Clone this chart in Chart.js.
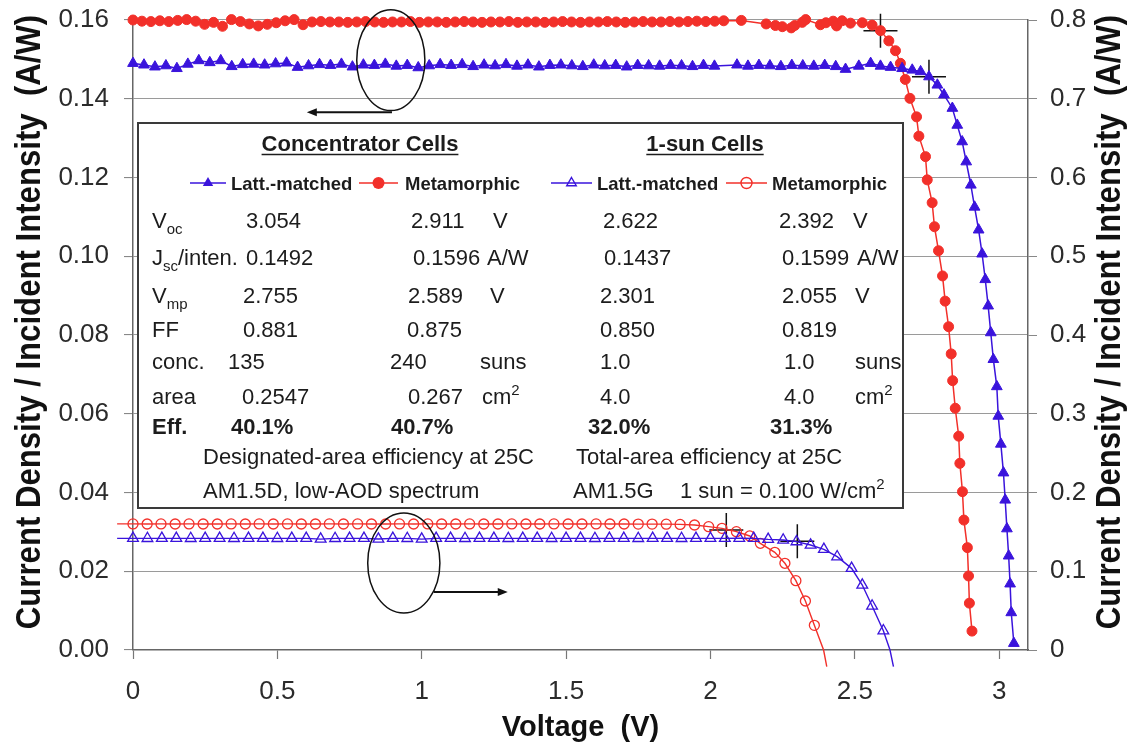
<!DOCTYPE html>
<html>
<head>
<meta charset="utf-8">
<title>Concentrator and 1-sun cell I-V curves</title>
<script src="https://cdn.jsdelivr.net/npm/chart.js@4.4.0/dist/chart.umd.min.js"></script>
<style>
  html, body { margin: 0; padding: 0; background: #fff; }
  canvas { display: block; }
</style>
</head>
<body>
<canvas id="ivChart" width="1132" height="747"></canvas>
<script>
// ---- data ----

// Concentrator cells, left axis (A/W)
const concLmV = [
  0.000, 0.038, 0.076, 0.114, 0.152, 0.190, 0.228, 0.266, 0.304, 0.342,
  0.380, 0.418, 0.456, 0.494, 0.532, 0.570, 0.608, 0.646, 0.684, 0.722,
  0.760, 0.798, 0.836, 0.874, 0.912, 0.950, 0.988, 1.026, 1.064, 1.102,
  1.140, 1.178, 1.216, 1.254, 1.292, 1.330, 1.368, 1.406, 1.444, 1.482,
  1.520, 1.558, 1.596, 1.634, 1.672, 1.710, 1.748, 1.786, 1.824, 1.862,
  1.900, 1.938, 1.976, 2.014, 2.092, 2.130, 2.168, 2.206, 2.244, 2.282,
  2.320, 2.358, 2.396, 2.434,
  2.468, 2.514, 2.555, 2.589, 2.624, 2.664, 2.699, 2.728, 2.757, 2.786,
  2.809, 2.838, 2.855, 2.872, 2.886, 2.902, 2.915, 2.929, 2.941, 2.952,
  2.962, 2.971, 2.980, 2.992, 2.997, 3.006, 3.015, 3.021, 3.027, 3.033,
  3.038, 3.042, 3.051
];
const concLmJ = [
  0.1490, 0.1486, 0.1481, 0.1484, 0.1477, 0.1488, 0.1497, 0.1492, 0.1497, 0.1482,
  0.1487, 0.1488, 0.1486, 0.1489, 0.1491, 0.1480, 0.1484, 0.1487, 0.1485, 0.1488,
  0.1481, 0.1486, 0.1485, 0.1488, 0.1483, 0.1485, 0.1479, 0.1484, 0.1487, 0.1485,
  0.1487, 0.1482, 0.1486, 0.1484, 0.1487, 0.1483, 0.1486, 0.1481, 0.1485, 0.1486,
  0.1484, 0.1482, 0.1486, 0.1484, 0.1485, 0.1481, 0.1485, 0.1484, 0.1483, 0.1485,
  0.1484, 0.1482, 0.1485, 0.1483, 0.1486, 0.1483, 0.1485, 0.1484, 0.1482, 0.1485,
  0.1484, 0.1483, 0.1485, 0.1482,
  0.1475, 0.1483, 0.1490, 0.1483, 0.1480, 0.1477, 0.1473, 0.1469, 0.1456, 0.1435,
  0.1410, 0.1376, 0.1333, 0.1291, 0.1240, 0.1181, 0.1125, 0.1067, 0.1006, 0.0941,
  0.0874, 0.0806, 0.0738, 0.0669, 0.0594, 0.0523, 0.0450, 0.0381, 0.0308, 0.0239,
  0.0168, 0.0095, 0.0017
];
const concMmV = [
  0.000, 0.031, 0.062, 0.093, 0.124, 0.155, 0.186, 0.217, 0.248, 0.279,
  0.310, 0.341, 0.372, 0.403, 0.434, 0.465, 0.496, 0.527, 0.558, 0.589,
  0.620, 0.651, 0.682, 0.713, 0.744, 0.775, 0.806, 0.837, 0.868, 0.899,
  0.930, 0.961, 0.992, 1.023, 1.054, 1.085, 1.116, 1.147, 1.178, 1.209,
  1.240, 1.271, 1.302, 1.333, 1.364, 1.395, 1.426, 1.457, 1.488, 1.519,
  1.550, 1.581, 1.612, 1.643, 1.674, 1.705, 1.736, 1.767, 1.798, 1.829,
  1.860, 1.891, 1.922, 1.953, 1.984, 2.015, 2.046,
  2.107, 2.193, 2.225, 2.249, 2.280, 2.292, 2.318, 2.330, 2.381, 2.400,
  2.425, 2.437, 2.456,
  2.485, 2.526, 2.560, 2.589, 2.618, 2.641, 2.658, 2.675, 2.691, 2.714,
  2.722, 2.745, 2.751, 2.768, 2.776, 2.790, 2.804, 2.813, 2.825, 2.834,
  2.839, 2.848, 2.860, 2.864, 2.873, 2.878, 2.890, 2.894, 2.897, 2.906
];
const concMmJ = [
  0.1600, 0.1597, 0.1596, 0.1598, 0.1596, 0.1599, 0.1601, 0.1597, 0.1589, 0.1594,
  0.1584, 0.1601, 0.1596, 0.1590, 0.1585, 0.1589, 0.1593, 0.1598, 0.1601, 0.1588,
  0.1595, 0.1596, 0.1595, 0.1595, 0.1594, 0.1595, 0.1596, 0.1595, 0.1594, 0.1595,
  0.1595, 0.1596, 0.1594, 0.1595, 0.1595, 0.1594, 0.1595, 0.1596, 0.1595, 0.1594,
  0.1595, 0.1595, 0.1596, 0.1594, 0.1595, 0.1595, 0.1594, 0.1595, 0.1596, 0.1595,
  0.1594, 0.1595, 0.1595, 0.1596, 0.1595, 0.1594, 0.1595, 0.1596, 0.1595, 0.1595,
  0.1596, 0.1595, 0.1596, 0.1597, 0.1596, 0.1597, 0.1598,
  0.1599, 0.1590, 0.1586, 0.1583, 0.1580, 0.1586, 0.1594, 0.1601, 0.1588, 0.1593,
  0.1597, 0.1585, 0.1598,
  0.1592, 0.1593, 0.1587, 0.1573, 0.1547, 0.1522, 0.1490, 0.1449, 0.1401, 0.1354,
  0.1305, 0.1253, 0.1194, 0.1136, 0.1075, 0.1014, 0.0950, 0.0886, 0.0821, 0.0752,
  0.0684, 0.0614, 0.0543, 0.0474, 0.0402, 0.0330, 0.0260, 0.0188, 0.0119, 0.0048
];

// 1-sun cells, right axis
const sunLmV = [
  0.00, 0.05, 0.10, 0.15, 0.20, 0.25, 0.30, 0.35, 0.40, 0.45,
  0.50, 0.55, 0.60, 0.65, 0.70, 0.75, 0.80, 0.85, 0.90, 0.95,
  1.00, 1.05, 1.10, 1.15, 1.20, 1.25, 1.30, 1.35, 1.40, 1.45,
  1.50, 1.55, 1.60, 1.65, 1.70, 1.75, 1.80, 1.85, 1.90, 1.95,
  2.00, 2.05, 2.10, 2.15,
  2.200, 2.252, 2.298, 2.347, 2.393, 2.439, 2.489, 2.526, 2.560, 2.599
];
const sunLmJ = [
  0.1418, 0.1417, 0.1418, 0.1418, 0.1417, 0.1418, 0.1418, 0.1417, 0.1418, 0.1418,
  0.1417, 0.1418, 0.1418, 0.1408, 0.1417, 0.1418, 0.1418, 0.1409, 0.1418, 0.1417,
  0.1408, 0.1418, 0.1418, 0.1417, 0.1418, 0.1418, 0.1417, 0.1418, 0.1418, 0.1417,
  0.1418, 0.1418, 0.1417, 0.1418, 0.1418, 0.1417, 0.1418, 0.1418, 0.1417, 0.1418,
  0.1418, 0.1418, 0.1419, 0.1418,
  0.1405, 0.1397, 0.1376, 0.1333, 0.1278, 0.1185, 0.1037, 0.0825, 0.0559, 0.0245
];
const sunMmV = [
  0.000, 0.049, 0.097, 0.146, 0.194, 0.243, 0.292, 0.340, 0.389, 0.437,
  0.486, 0.535, 0.583, 0.632, 0.680, 0.729, 0.778, 0.826, 0.875, 0.923,
  0.972, 1.021, 1.069, 1.118, 1.166, 1.215, 1.264, 1.312, 1.361, 1.409,
  1.458, 1.507, 1.555, 1.604, 1.652, 1.701, 1.750, 1.798, 1.847, 1.895,
  1.945, 1.994, 2.040, 2.090, 2.136, 2.173, 2.223, 2.258, 2.296, 2.329, 2.360
];
const sunMmJ = [
  0.1601, 0.1600, 0.1601, 0.1600, 0.1601, 0.1600, 0.1600, 0.1601, 0.1600, 0.1601,
  0.1600, 0.1601, 0.1600, 0.1600, 0.1601, 0.1600, 0.1601, 0.1600, 0.1600, 0.1601,
  0.1600, 0.1601, 0.1600, 0.1600, 0.1601, 0.1600, 0.1600, 0.1601, 0.1600, 0.1600,
  0.1601, 0.1600, 0.1600, 0.1601, 0.1600, 0.1600, 0.1599, 0.1599, 0.1598, 0.1595,
  0.1587, 0.1566, 0.1545, 0.1503, 0.1448, 0.1355, 0.1240, 0.1101, 0.0880, 0.0622, 0.0313
];

// fitted line ends of the 1-sun curves (no markers)
const sunLmFitV = [-0.055, 2.622, 2.634];
const sunLmFitJ = [0.1418, 0.0, -0.021];
const sunMmFitV = [-0.055, 2.392, 2.403];
const sunMmFitJ = [0.1601, 0.0, -0.021];

// maximum power points (+ marks)
const concMppV = [2.757, 2.589];
const concMppJ = [0.1456, 0.1573];
const sunMppV = [2.301, 2.055];
const sunMppJ = [0.1380, 0.1524];

// table text
const paramLabels = ['V|oc', 'J|sc|/inten.', 'V|mp', 'FF', 'conc.', 'area', 'Eff.'];
const concLmCol = ['3.054', '0.1492', '2.755', '0.881', '135', '0.2547', '40.1%'];
const concMmCol = ['2.911', '0.1596', '2.589', '0.875', '240', '0.267', '40.7%'];
const sunLmCol = ['2.622', '0.1437', '2.301', '0.850', '1.0', '4.0', '32.0%'];
const sunMmCol = ['2.392', '0.1599', '2.055', '0.819', '1.0', '4.0', '31.3%'];
const unitCol = ['V', 'A/W', 'V', '', 'suns', 'cm|2', ''];

// ellipse callouts: [centre V, centre J, half-width V, half-height J]
const leftCallout = [0.893, 0.1498, 0.118, 0.0128];
const leftArrow = [0.897, 0.602, 0.1366];     // from V, to V, at J (left axis)
const rightCallout = [0.938, 0.1105, 0.125, 0.0635];
const rightArrow = [1.042, 1.298, 0.0737];    // from V, to V, at J (right axis)

// ---- styling ----
const FONT = "'Liberation Sans', Arial, Helvetica, sans-serif";
const RED = '#f2302a';
const BLUE = '#3a14dc';
const TEXT = '#1c1c1c';

function pts(vs, js) {
  return vs.map((v, i) => ({ x: v, y: js[i] }));
}

function sunData(vs, js, fitV, fitJ) {
  const head = { x: fitV[0], y: fitJ[0], fit: true };
  const tail = fitV.slice(1).map((v, i) => ({ x: v, y: fitJ[i + 1], fit: true }));
  return [head, ...pts(vs, js), ...tail];
}

const noFitRadius = r => c => (c.raw && c.raw.fit ? 0 : r);

// ---- overlay: callouts, table box and axis titles ----
function drawRich(ctx, str, x, y, size, bold, mode) {
  const parts = str.split('|');
  let cx = x;
  parts.forEach((p, i) => {
    const small = i % 2 === 1;
    const fs = small ? Math.round(size * 0.66) : size;
    ctx.font = (bold ? 'bold ' : '') + fs + 'px ' + FONT;
    let dy = 0;
    if (small) dy = mode === 'sup' ? -size * 0.42 : size * 0.26;
    ctx.fillText(p, cx, y + dy);
    cx += ctx.measureText(p).width;
  });
}

function marker(ctx, style, x, y, r, color, filled) {
  ctx.beginPath();
  if (style === 'circle') {
    ctx.arc(x, y, r, 0, Math.PI * 2);
  } else {
    ctx.moveTo(x, y - r);
    ctx.lineTo(x + r * 0.866, y + r * 0.5);
    ctx.lineTo(x - r * 0.866, y + r * 0.5);
    ctx.closePath();
  }
  ctx.fillStyle = color;
  ctx.strokeStyle = color;
  ctx.lineWidth = 1.4;
  if (filled) ctx.fill(); else ctx.stroke();
}

function legendItem(ctx, x0, x1, style, color, filled, label, tx) {
  const y = 183;
  ctx.strokeStyle = color;
  ctx.lineWidth = 1.4;
  ctx.beginPath();
  ctx.moveTo(x0, y);
  ctx.lineTo(x1, y);
  ctx.stroke();
  marker(ctx, style, (x0 + x1) / 2, y, filled ? 6 : 5.5, color, filled);
  ctx.fillStyle = TEXT;
  ctx.font = 'bold 18.5px ' + FONT;
  ctx.fillText(label, tx, y + 7);
}

function header(ctx, text, cx, baseline) {
  ctx.font = 'bold 22px ' + FONT;
  const w = ctx.measureText(text).width;
  ctx.fillStyle = TEXT;
  ctx.fillText(text, cx - w / 2, baseline);
  ctx.strokeStyle = TEXT;
  ctx.lineWidth = 1.5;
  ctx.beginPath();
  ctx.moveTo(cx - w / 2, baseline + 3.5);
  ctx.lineTo(cx + w / 2, baseline + 3.5);
  ctx.stroke();
}

function drawTable(ctx) {
  const box = { left: 138, top: 123, right: 903, bottom: 508 };
  ctx.fillStyle = '#fff';
  ctx.fillRect(box.left, box.top, box.right - box.left, box.bottom - box.top);
  ctx.strokeStyle = '#3a3a3a';
  ctx.lineWidth = 2;
  ctx.strokeRect(box.left, box.top, box.right - box.left, box.bottom - box.top);

  ctx.textAlign = 'left';
  ctx.textBaseline = 'alphabetic';

  header(ctx, 'Concentrator Cells', 360, 151);
  header(ctx, '1-sun Cells', 705, 151);

  legendItem(ctx, 190, 226, 'triangle', BLUE, true, 'Latt.-matched', 231);
  legendItem(ctx, 359, 398, 'circle', RED, true, 'Metamorphic', 405);
  legendItem(ctx, 551, 592, 'triangle', BLUE, false, 'Latt.-matched', 597);
  legendItem(ctx, 726, 767, 'circle', RED, false, 'Metamorphic', 772);

  const rowY = [220, 257, 295, 329, 361, 396, 426];
  const xConcLm = [246, 246, 243, 243, 228, 242, 231];
  const xConcMm = [411, 413, 408, 407, 390, 408, 391];
  const xUnit1 = [493, 487, 490, 0, 480, 482, 0];
  const xSunLm = [603, 604, 600, 600, 600, 600, 588];
  const xSunMm = [779, 782, 782, 782, 784, 784, 770];
  const xUnit2 = [853, 857, 855, 0, 855, 855, 0];

  ctx.fillStyle = TEXT;
  rowY.forEach((yc, i) => {
    const base = yc + 8;
    const bold = i === rowY.length - 1;
    drawRich(ctx, paramLabels[i], 152, base, 22, bold, 'sub');
    drawRich(ctx, concLmCol[i], xConcLm[i], base, 22, bold);
    drawRich(ctx, concMmCol[i], xConcMm[i], base, 22, bold);
    drawRich(ctx, sunLmCol[i], xSunLm[i], base, 22, bold);
    drawRich(ctx, sunMmCol[i], xSunMm[i], base, 22, bold);
    if (unitCol[i]) {
      drawRich(ctx, unitCol[i], xUnit1[i], base, 22, false, 'sup');
      drawRich(ctx, unitCol[i], xUnit2[i], base, 22, false, 'sup');
    }
  });

  drawRich(ctx, 'Designated-area efficiency at 25C', 203, 464, 22, false);
  drawRich(ctx, 'Total-area efficiency at 25C', 576, 464, 22, false);
  drawRich(ctx, 'AM1.5D, low-AOD spectrum', 203, 498, 22, false);
  drawRich(ctx, 'AM1.5G', 573, 498, 22, false);
  drawRich(ctx, '1 sun = 0.100 W/cm|2', 680, 498, 22, false, 'sup');
}

function callout(ctx, xs, ys, ell, arrow) {
  const cx = xs.getPixelForValue(ell[0]);
  const cy = ys.getPixelForValue(ell[1]);
  const rx = Math.abs(xs.getPixelForValue(ell[0] + ell[2]) - cx);
  const ry = Math.abs(ys.getPixelForValue(ell[1] + ell[3]) - cy);
  ctx.strokeStyle = '#111';
  ctx.lineWidth = 1.5;
  ctx.beginPath();
  ctx.ellipse(cx, cy, rx, ry, 0, 0, Math.PI * 2);
  ctx.stroke();

  const x0 = xs.getPixelForValue(arrow[0]);
  const x1 = xs.getPixelForValue(arrow[1]);
  const ay = ys.getPixelForValue(arrow[2]);
  const dir = Math.sign(x1 - x0);
  ctx.lineWidth = 2;
  ctx.beginPath();
  ctx.moveTo(x0, ay);
  ctx.lineTo(x1 - dir * 8, ay);
  ctx.stroke();
  ctx.fillStyle = '#111';
  ctx.beginPath();
  ctx.moveTo(x1, ay);
  ctx.lineTo(x1 - dir * 10, ay - 4);
  ctx.lineTo(x1 - dir * 10, ay + 4);
  ctx.closePath();
  ctx.fill();
}

function sideTitle(ctx, text, x, y) {
  ctx.save();
  ctx.translate(x, y);
  ctx.rotate(-Math.PI / 2);
  ctx.scale(0.89, 1);
  ctx.font = 'bold 35px ' + FONT;
  ctx.fillStyle = '#111';
  ctx.textAlign = 'center';
  ctx.textBaseline = 'middle';
  ctx.fillText(text, 0, 0);
  ctx.restore();
}

const overlay = {
  id: 'overlay',
  afterDatasetsDraw(chart) {
    const { ctx, scales } = chart;
    ctx.save();
    callout(ctx, scales.x, scales.y, leftCallout, leftArrow);
    callout(ctx, scales.x, scales.y2, rightCallout, rightArrow);
    drawTable(ctx);
    ctx.restore();
  },
  afterDraw(chart) {
    const { ctx, chartArea } = chart;
    const title = 'Current Density / Incident Intensity  (A/W)';
    sideTitle(ctx, title, 30, 322);
    sideTitle(ctx, title, 1110, 322);
    ctx.save();
    ctx.font = 'bold 29px ' + FONT;
    ctx.fillStyle = '#111';
    ctx.textAlign = 'center';
    ctx.textBaseline = 'alphabetic';
    ctx.fillText('Voltage  (V)', (chartArea.left + chartArea.right) / 2, 736);
    ctx.restore();
  }
};

const tickFont = { family: FONT, size: 26 };
const tickColor = '#2b2b2b';

// pin the scale boxes so the plot area matches the figure
function fixVertical(width) {
  return s => { s.width = width; s.paddingTop = 0; s.paddingBottom = 0; };
}

new Chart(document.getElementById('ivChart'), {
  type: 'scatter',
  data: {
    datasets: [
      {
        label: '1-sun Latt.-matched',
        data: sunData(sunLmV, sunLmJ, sunLmFitV, sunLmFitJ),
        yAxisID: 'y2',
        showLine: true,
        borderColor: BLUE,
        borderWidth: 1.4,
        pointStyle: 'triangle',
        pointRadius: noFitRadius(6.2),
        pointBorderWidth: 1.3,
        pointBackgroundColor: 'rgba(0,0,0,0)',
        pointBorderColor: BLUE,
        clip: false
      },
      {
        label: '1-sun Metamorphic',
        data: sunData(sunMmV, sunMmJ, sunMmFitV, sunMmFitJ),
        yAxisID: 'y2',
        showLine: true,
        borderColor: RED,
        borderWidth: 1.4,
        pointStyle: 'circle',
        pointRadius: noFitRadius(5),
        pointBorderWidth: 1.3,
        pointBackgroundColor: 'rgba(0,0,0,0)',
        pointBorderColor: RED,
        clip: false
      },
      {
        label: 'Concentrator Latt.-matched',
        data: pts(concLmV, concLmJ),
        yAxisID: 'y',
        showLine: true,
        borderColor: BLUE,
        borderWidth: 1.5,
        pointStyle: 'triangle',
        pointRadius: 6.2,
        pointBackgroundColor: BLUE,
        pointBorderColor: BLUE,
        pointBorderWidth: 1,
        clip: false
      },
      {
        label: 'Concentrator Metamorphic',
        data: pts(concMmV, concMmJ),
        yAxisID: 'y',
        showLine: true,
        borderColor: RED,
        borderWidth: 1.5,
        pointStyle: 'circle',
        pointRadius: 5,
        pointBackgroundColor: RED,
        pointBorderColor: RED,
        pointBorderWidth: 1,
        clip: false
      },
      {
        label: 'Concentrator max power',
        data: pts(concMppV, concMppJ),
        yAxisID: 'y',
        pointStyle: 'cross',
        pointRadius: 17,
        pointBorderColor: '#111',
        pointBorderWidth: 1.5,
        clip: false
      },
      {
        label: '1-sun max power',
        data: pts(sunMppV, sunMppJ),
        yAxisID: 'y2',
        pointStyle: 'cross',
        pointRadius: 17,
        pointBorderColor: '#111',
        pointBorderWidth: 1.5,
        clip: false
      }
    ]
  },
  options: {
    responsive: false,
    animation: false,
    devicePixelRatio: 1,
    layout: { padding: { top: 20, left: 0, right: 0, bottom: 0 } },
    plugins: {
      legend: { display: false },
      tooltip: { enabled: false }
    },
    scales: {
      x: {
        type: 'linear',
        position: 'bottom',
        min: 0,
        max: 3.1,
        afterFit: s => { s.height = 97; s.paddingLeft = 0; s.paddingRight = 0; },
        ticks: {
          stepSize: 0.5,
          includeBounds: false,
          padding: 17,
          font: tickFont,
          color: tickColor,
          callback: v => String(Math.round(v * 10) / 10)
        },
        grid: { drawOnChartArea: false, tickLength: 9, tickColor: '#777', tickWidth: 1.2 },
        border: { color: '#666', width: 1.5 }
      },
      y: {
        type: 'linear',
        position: 'left',
        min: 0,
        max: 0.16,
        afterFit: fixVertical(133),
        ticks: {
          stepSize: 0.02,
          padding: 15,
          font: tickFont,
          color: tickColor,
          callback: v => v.toFixed(2)
        },
        grid: { color: '#9a9a9a', lineWidth: 1.1, tickLength: 9, tickColor: '#888' },
        border: { color: '#666', width: 1.5 }
      },
      y2: {
        type: 'linear',
        position: 'right',
        min: 0,
        max: 0.8,
        afterFit: fixVertical(104),
        ticks: {
          stepSize: 0.1,
          padding: 13,
          font: tickFont,
          color: tickColor,
          callback: v => (Math.abs(v) < 1e-9 ? '0' : v.toFixed(1))
        },
        grid: { drawOnChartArea: false, tickLength: 9, tickColor: '#888' },
        border: { color: '#666', width: 1.5 }
      }
    }
  },
  plugins: [overlay]
});
</script>
</body>
</html>
